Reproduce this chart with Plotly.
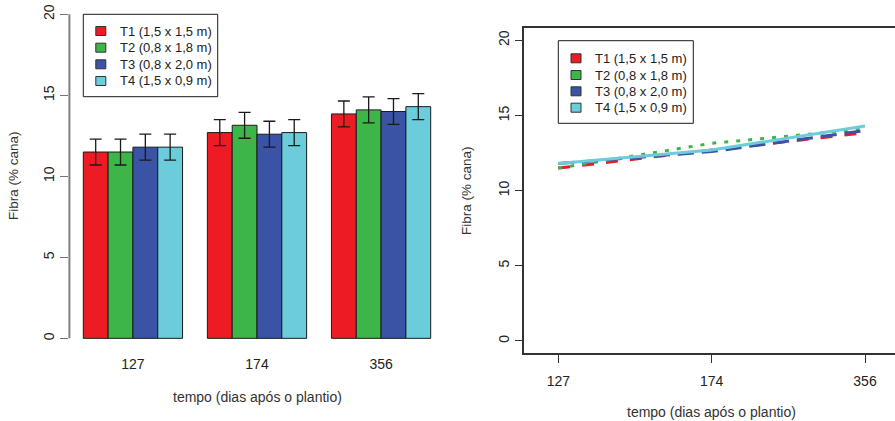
import plotly.graph_objects as go

# Fibre content (% cane) by spacing treatment, at three sampling dates
dias = ["127", "174", "356"]
tratamentos = ["T1 (1,5 x 1,5 m)", "T2 (0,8 x 1,8 m)", "T3 (0,8 x 2,0 m)", "T4 (1,5 x 0,9 m)"]
fibra_t1 = [11.5, 12.7, 13.85]
fibra_t2 = [11.5, 13.15, 14.1]
fibra_t3 = [11.8, 12.6, 14.0]
fibra_t4 = [11.8, 12.7, 14.3]
erro = [0.8, 0.8, 0.8]
y_ticks = [0, 5, 10, 15, 20]

series = [fibra_t1, fibra_t2, fibra_t3, fibra_t4]
cores = ["#ED1C24", "#3DB549", "#3A53A4", "#6BCDDB"]
tracos = ["12px,12px", "4px,8px", "16px,8px", "solid"]

W, H = 895, 421
FONT = "Liberation Sans, Arial, sans-serif"
TXT = "#222222"


def px(x):
    return x / W


def py(y):
    return 1 - y / H


fig = go.Figure()

# --- left panel: grouped bars with error bars (bar width 1, one empty slot between groups)
n = len(series)
for i, (vals, cor, nome) in enumerate(zip(series, cores, tratamentos)):
    xs = [g * (n + 1) + 1 + i + 0.5 for g in range(len(dias))]
    fig.add_trace(go.Bar(
        x=xs, y=vals, width=1.0, name=nome,
        marker=dict(color=cor, line=dict(color="#1a1a1a", width=1)),
        error_y=dict(type="data", array=erro, color="#1a1a1a", thickness=1.3, width=6),
        xaxis="x", yaxis="y", showlegend=False,
    ))

centros = [g * (n + 1) + 1 + n / 2 for g in range(len(dias))]

# --- right panel: lines over the three dates
pos = list(range(1, len(dias) + 1))
for vals, cor, nome, dash in zip(series, cores, tratamentos, tracos):
    fig.add_trace(go.Scatter(
        x=pos, y=vals, mode="lines", name=nome,
        line=dict(color=cor, width=3, dash=dash),
        xaxis="x2", yaxis="y2", showlegend=False,
    ))

tick_font = dict(family=FONT, size=14, color=TXT)

fig.update_layout(
    width=W, height=H,
    margin=dict(l=0, r=0, t=0, b=0),
    paper_bgcolor="white", plot_bgcolor="white",
    barmode="overlay",
    font=dict(family=FONT, size=13, color=TXT),
    xaxis=dict(
        domain=[px(69.4), px(444.6)], range=[0.44, 15.56],
        tickvals=centros, ticktext=dias, ticks="", showline=False,
        showgrid=False, zeroline=False, tickfont=tick_font,
        ticklabelstandoff=3, automargin=False,
    ),
    yaxis=dict(
        domain=[py(351.3), py(1.34)], range=[-0.8, 20.8],
        tickvals=y_ticks, ticks="outside", ticklen=8, tickcolor="#777777", tickwidth=1,
        tickangle=-90, showline=False, showgrid=False, zeroline=False,
        tickfont=tick_font, ticklabelstandoff=1, automargin=False,
    ),
    # right panel frame: bottom line plus its mirror on top; the left side comes from y2
    xaxis2=dict(
        domain=[px(524.3), 1.0], range=[0.7783, 0.7783 + (W - 524.3) / 153.35], anchor="y2",
        tickvals=pos, ticktext=dias, ticks="outside", ticklen=8, tickcolor="#333333",
        tickwidth=1, showline=True, linecolor="#333333", linewidth=1.5, mirror=True,
        showgrid=False, zeroline=False,
        tickfont=tick_font, ticklabelstandoff=6, automargin=False,
    ),
    yaxis2=dict(
        domain=[py(353.0), py(28.3)], range=[-0.8, 20.8], anchor="x2",
        tickvals=y_ticks, ticks="outside", ticklen=8, tickcolor="#333333", tickwidth=1,
        tickangle=-90, showline=True, linecolor="#333333", linewidth=1.5, mirror=False,
        showgrid=False, zeroline=False,
        tickfont=tick_font, automargin=False,
    ),
)

shapes = []
# left y axis line spanning only the tick range
shapes.append(dict(type="line", xref="x domain", yref="y", x0=0, x1=0, y0=0, y1=20,
                   line=dict(color="#808080", width=2)))

annotations = []


def legenda(x0, y0, x1, y1, sq_x, rows, text_x, sq_w=10, sq_h=9):
    shapes.append(dict(type="rect", xref="paper", yref="paper",
                       x0=px(x0), x1=px(x1), y0=py(y1), y1=py(y0),
                       line=dict(color="#1a1a1a", width=1), fillcolor="white", layer="above"))
    for cor, nome, ry in zip(cores, tratamentos, rows):
        shapes.append(dict(type="rect", xref="paper", yref="paper",
                           x0=px(sq_x - sq_w / 2), x1=px(sq_x + sq_w / 2),
                           y0=py(ry + sq_h / 2), y1=py(ry - sq_h / 2),
                           line=dict(color="#333333", width=1), fillcolor=cor, layer="above"))
        annotations.append(dict(xref="paper", yref="paper", x=px(text_x), y=py(ry),
                                text=nome, showarrow=False, xanchor="left", yanchor="middle",
                                font=dict(family=FONT, size=13, color=TXT)))


legenda(83.3, 14.3, 217.7, 96.7, 100.8, [31, 47.7, 64.3, 81], 118)
legenda(558.3, 40.7, 693.3, 123.3, 576, [58.3, 75, 91.3, 107.7], 592.5)

ytitle_font = dict(family=FONT, size=13.5, color="#333333")
xtitle_font = dict(family=FONT, size=14, color="#333333")
annotations += [
    dict(xref="paper", yref="paper", x=px(13), y=py(176), text="Fibra (% cana)",
         textangle=-90, showarrow=False, xanchor="center", yanchor="middle", font=ytitle_font),
    dict(xref="paper", yref="paper", x=px(257), y=py(397), text="tempo (dias após o plantio)",
         showarrow=False, xanchor="center", yanchor="middle", font=xtitle_font),
    dict(xref="paper", yref="paper", x=px(467), y=py(190), text="Fibra (% cana)",
         textangle=-90, showarrow=False, xanchor="center", yanchor="middle", font=ytitle_font),
    dict(xref="paper", yref="paper", x=px(711.5), y=py(411.5), text="tempo (dias após o plantio)",
         showarrow=False, xanchor="center", yanchor="middle", font=xtitle_font),
]

fig.update_layout(shapes=shapes, annotations=annotations)
fig.write_html("out.html")
